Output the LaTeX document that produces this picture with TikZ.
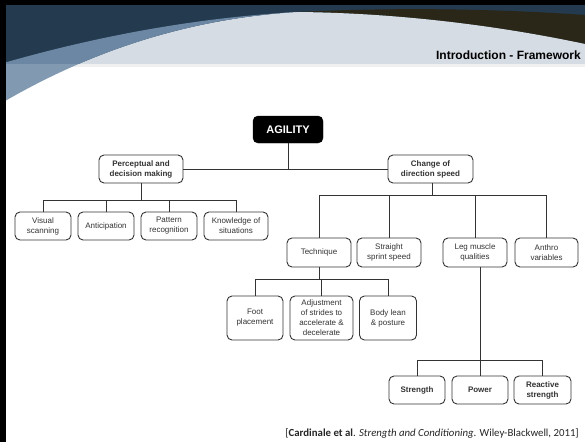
\documentclass[tikz,border=0pt]{standalone}
\usepackage{fontspec}
\setmainfont{Liberation Sans}
\newfontfamily\citefont{Carlito}

\definecolor{navy}{HTML}{233A4F}
\definecolor{swoosh}{HTML}{6B87A3}
\definecolor{swooshlt}{HTML}{8199B1}
\definecolor{bandgray}{HTML}{D5DCE3}
\definecolor{bandbrown}{HTML}{2B2718}
\definecolor{boxline}{HTML}{333333}

\tikzset{
  agi-box/.style={rectangle, rounded corners=5pt, draw=boxline, line width=0.9pt, fill=white, text=boxline, font=\fontsize{8}{10}\selectfont, align=center, inner sep=1pt, minimum width=56pt, minimum height=28pt},
  agi-bold/.style={agi-box, font=\fontsize{8}{10}\selectfont\bfseries},
  agi-root/.style={rectangle, rounded corners=5pt, draw=black, fill=black, text=white, font=\fontsize{11}{13}\selectfont\bfseries, minimum width=70pt, minimum height=27pt},
  agi-line/.style={draw=boxline, line width=0.9pt},
  agi-title/.style={font=\fontsize{12}{14}\selectfont\bfseries, text=black, inner sep=0pt},
  agi-cite/.style={font=\citefont\fontsize{10.8}{12}\selectfont, text=black!85, inner sep=0pt},
}

\begin{document}
\begin{tikzpicture}[x=1pt, y=-1pt]
    \useasboundingbox (0,0) rectangle (585,442);

    % Header: band and swoosh
    \fill[white] (0,0) rectangle (585,442);
    \fill[navy] (0,0) rectangle (585,64);
    \fill[bandbrown] (297,12) .. controls (400,7) and (500,9) .. (585,15) -- (585,44) .. controls (500,26) and (400,13) .. (297,12) -- cycle;
    \begin{scope}
        \clip (0,0) rectangle (585,64);
        \fill[bandgray] (0,104) .. controls (100,45) and (200,18) .. (297,12) .. controls (400,13) and (500,26) .. (585,44) -- (585,64) -- (0,64) -- cycle;
        \fill[swoosh] (0,64) .. controls (90,38) and (190,18) .. (297,12) .. controls (200,18) and (100,45) .. (0,104) -- cycle;
    \end{scope}
    \fill[black!6] (0,64) rectangle (585,67);
    \begin{scope}
        \clip (0,64) rectangle (300,120);
        \fill[swooshlt] (0,0) -- (0,104) .. controls (100,45) and (200,18) .. (297,12) -- (297,0) -- cycle;
    \end{scope}
    \fill[black] (0,0) rectangle (585,5);
    \fill[black] (0,0) rectangle (6,442);

    \node[agi-title, anchor=base east] (title) at (581,59) {Introduction - Framework};

    % Nodes: root and first level
    \node[agi-root] (agility) at (288,129.5) {AGILITY};
    \node[agi-bold, minimum width=84pt] (percep) at (141,169) {Perceptual and\\decision making};
    \node[agi-bold, minimum width=85pt] (cods) at (430.5,169) {Change of\\direction speed};

    % Nodes: perceptual branch
    \node[agi-box] (visual)  at (43,226)  {Visual\\scanning};
    \node[agi-box] (antic)   at (106,226) {Anticipation};
    \node[agi-box] (pattern) at (169,226) {Pattern\\recognition};
    \node[agi-box, minimum width=64pt] (knowl) at (236,226) {Knowledge of\\situations};

    % Nodes: change of direction branch
    \node[agi-box, minimum width=64pt, minimum height=29pt] (tech)   at (319,252.5)   {Technique};
    \node[agi-box, minimum width=64pt, minimum height=29pt] (sprint) at (389,252.5)   {Straight\\sprint speed};
    \node[agi-box, minimum width=64pt, minimum height=29pt] (legmus) at (475,252.5)   {Leg muscle\\qualities};
    \node[agi-box, minimum width=63pt, minimum height=29pt] (anthro) at (546.5,252.5) {Anthro\\variables};

    % Nodes: technique
    \node[agi-box, minimum height=44pt] (foot) at (255,318) {Foot\\placement};
    \node[agi-box, minimum width=63pt, minimum height=44pt] (adjust) at (321.5,318) {Adjustment\\of strides to\\accelerate \&\\decelerate};
    \node[agi-box, minimum width=57pt, minimum height=44pt] (lean) at (388,318) {Body lean\\\& posture};

    % Nodes: leg muscle qualities
    \node[agi-bold] (strength) at (417,390) {Strength};
    \node[agi-bold] (power)    at (480,390) {Power};
    \node[agi-bold, minimum width=57pt] (reactive) at (542.5,390) {Reactive\\strength};

    % Bus points
    \coordinate (pbus) at (141,200);
    \coordinate (cbus) at (432,195);
    \coordinate (tbus) at (320,279);
    \coordinate (lbus) at (480,360);

    % Edges: root
    \draw[agi-line] (percep.east) -- (cods.west);
    \draw[agi-line] (agility.south) -- (agility.south |- percep.east);

    % Edges: perceptual branch
    \draw[agi-line] (percep.south) -- (percep.south |- pbus);
    \draw[agi-line] (pbus -| visual) -- (pbus -| knowl);
    \draw[agi-line] (pbus -| visual)  -- (visual.north);
    \draw[agi-line] (pbus -| antic)   -- (antic.north);
    \draw[agi-line] (pbus -| pattern) -- (pattern.north);
    \draw[agi-line] (pbus -| knowl)   -- (knowl.north);

    % Edges: change of direction branch
    \draw[agi-line] (cods.south -| cbus) -- (cbus);
    \draw[agi-line] (cbus -| tech) -- (cbus -| anthro);
    \draw[agi-line] (cbus -| tech)   -- (tech.north);
    \draw[agi-line] (cbus -| sprint) -- (sprint.north);
    \draw[agi-line] (cbus -| legmus) -- (legmus.north);
    \draw[agi-line] (cbus -| anthro) -- (anthro.north);

    % Edges: technique
    \draw[agi-line] (tech.south) -- (tech.south |- tbus);
    \draw[agi-line] (tbus -| foot) -- (tbus -| lean);
    \draw[agi-line] (tbus -| foot)   -- (foot.north);
    \draw[agi-line] (tbus -| adjust) -- (adjust.north);
    \draw[agi-line] (tbus -| lean)   -- (lean.north);

    % Edges: leg muscle qualities
    \draw[agi-line] (legmus.south -| power) -- (power.north);
    \draw[agi-line] (lbus -| strength) -- (lbus -| reactive);
    \draw[agi-line] (lbus -| strength) -- (strength.north);
    \draw[agi-line] (lbus -| reactive) -- (reactive.north);

    % Source
    \node[agi-cite, anchor=base east] (cite) at (579,436) {[\textbf{Cardinale et al}. \textit{Strength and Conditioning}. Wiley-Blackwell, 2011]};

\end{tikzpicture}
\end{document}
